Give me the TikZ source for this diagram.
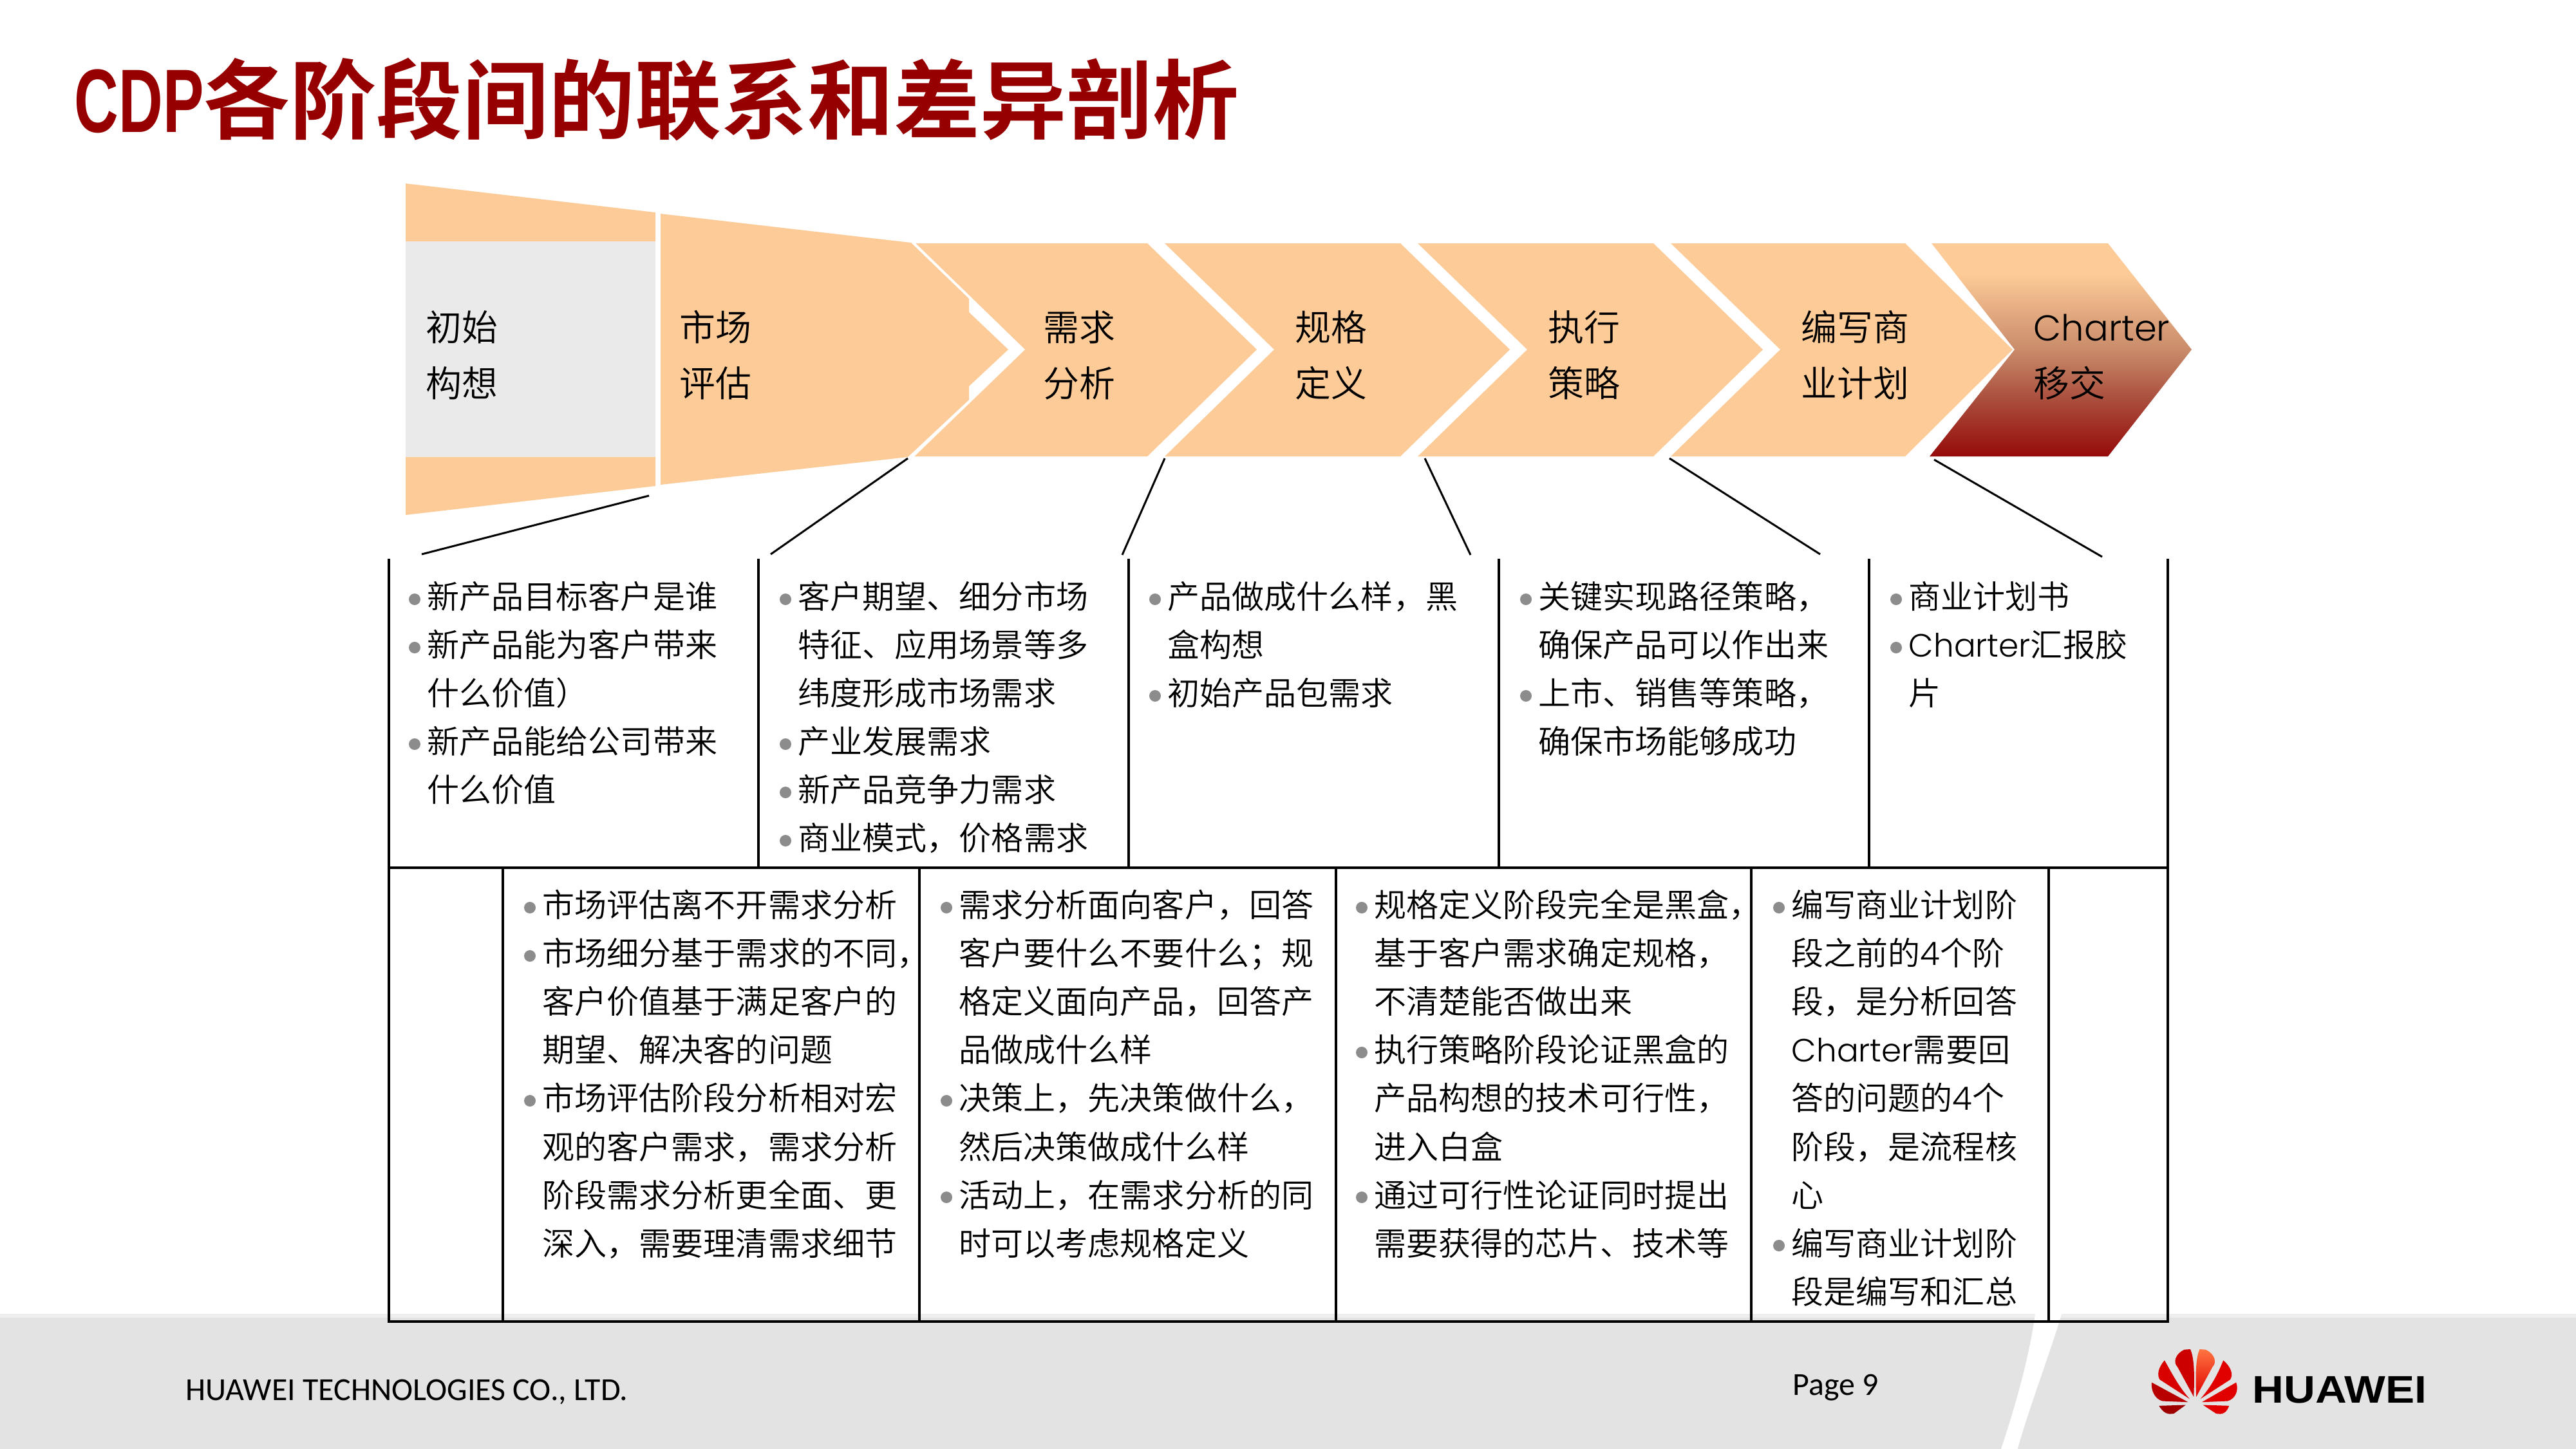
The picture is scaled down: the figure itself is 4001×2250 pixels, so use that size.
\documentclass[tikz,border=0pt]{standalone}
\usepackage{fontspec}
\usepackage{graphicx}
\setmainfont{Noto Sans CJK SC}[UprightFont=* DemiLight,BoldFont=* Bold]
\newfontfamily\gothic{Poppins}[UprightFont=* Light]
\newfontfamily\carl{Carlito}
\newfontfamily\arialb{Liberation Sans}[UprightFont=* Bold]
\newcommand\lat[1]{{\gothic #1}}
\definecolor{peach}{HTML}{FDCB98}
\definecolor{titlered}{HTML}{960000}
\definecolor{idea}{HTML}{EAEAEA}
\definecolor{foot}{HTML}{E3E3E3}
\definecolor{footlight}{HTML}{EEEEEE}
\definecolor{bul}{HTML}{8C8C8C}
\definecolor{cdark}{HTML}{960A0A}
\definecolor{cm}{HTML}{C98B6A}
\definecolor{cl}{HTML}{A94C3C}
\pgfdeclareverticalshading{charterfade}{100bp}{color(0bp)=(cdark); color(25bp)=(cdark); color(38bp)=(cl); color(50bp)=(cm); color(68bp)=(peach); color(100bp)=(peach)}
\tikzset{
  stagefill/.style={fill=peach,draw=none},
  grid/.style={draw=black,line width=0.035cm,line cap=rect},
  connector/.style={draw=black,line width=0.03cm},
  celltext/.style={anchor=north west,inner sep=0pt,align=left,text=black,font=\fontsize{14.23pt}{21.34pt}\selectfont},
  stagetext/.style={anchor=north west,inner sep=0pt,align=left,text=black,font=\fontsize{15.9pt}{24.73pt}\selectfont},
  foottext/.style={anchor=base west,inner sep=0pt,text=black,font=\carl\fontsize{14.2pt}{17pt}\selectfont},
}
\newcommand\cell[5]{%
  \node[celltext] (#1) at (#2-2,#3) {\rule{0pt}{0.55cm}#5};
  \foreach \k in {#4} {\fill[bul] (#2-21,#3+41+75*\k) circle[radius=9];}
}
\newcommand\stage[3]{\node[stagetext] (#1) at (#2,467) {\rule{0pt}{0.62cm}#3};}
\begin{document}
\begin{tikzpicture}[x=0.01cm,y=-0.01cm]
\useasboundingbox (0,0) rectangle (4001,2250);
% footer
\fill[foot] (-10,2041) rectangle (4011,2260);
\fill[footlight] (-10,2041) rectangle (4011,2047);
\fill[white] (3161,2041) .. controls (3150,2120) and (3125,2200) .. (3105,2260) -- (3131,2260) .. controls (3150,2190) and (3185,2100) .. (3202,2041) -- cycle;
% title
\node[anchor=base west,inner sep=0pt,text=titlered,font=\fontsize{38.1pt}{40pt}\selectfont\bfseries] (title) at (115,205)
  {{\arialb\fontsize{39.8pt}{40pt}\selectfont\scalebox{0.68}[1]{CDP}}各阶段间的联系和差异剖析};
% funnel
\fill[stagefill] (630,285) -- (1018,330) -- (1018,375) -- (630,375) -- cycle;
\fill[idea] (630,375) rectangle (1018,710);
\fill[stagefill] (630,800) -- (1018,755) -- (1018,710) -- (630,710) -- cycle;
% chevrons
\fill[stagefill] (1419,378) -- (1782,378) -- (1952,543) -- (1782,709) -- (1419,709) -- (1590,543) -- cycle;
\fill[stagefill] (1809,378) -- (2175,378) -- (2345,543) -- (2175,709) -- (1809,709) -- (1979,543) -- cycle;
\fill[stagefill] (2202,378) -- (2568,378) -- (2738,543) -- (2568,709) -- (2202,709) -- (2372,543) -- cycle;
\fill[stagefill] (2595,378) -- (2959,378) -- (3126,543) -- (2959,709) -- (2595,709) -- (2765,543) -- cycle;
\shade[shading=charterfade] (3000,378) -- (3274,378) -- (3404,543) -- (3274,709) -- (2997,709) -- (3129,543) -- cycle;
% market evaluation shape
\fill[white] (1411,375) -- (1419,375) -- (1592,543) -- (1417,712) -- (1405,712) -- (1566,543) -- cycle;
\fill[stagefill] (1026,332) -- (1415,377) -- (1505,464) -- (1505,485) -- (1566,543) -- (1505,600) -- (1505,621) -- (1410,710) -- (1026,753) -- cycle;
% stage labels
\stage{s1}{661}{初始\\构想}
\stage{s2}{1055}{市场\\评估}
\stage{s3}{1620}{需求\\分析}
\stage{s4}{2011}{规格\\定义}
\stage{s5}{2404}{执行\\策略}
\stage{s6}{2797}{编写商\\业计划}
\stage{s7}{3158}{\lat{Charter}\\移交}
% connectors
\coordinate (c1a) at (1008,770); \coordinate (c1b) at (655,861);
\coordinate (c2a) at (1410,712); \coordinate (c2b) at (1197,861);
\coordinate (c3a) at (1809,712); \coordinate (c3b) at (1743,862);
\coordinate (c4a) at (2213,712); \coordinate (c4b) at (2284,862);
\coordinate (c5a) at (2593,712); \coordinate (c5b) at (2827,861);
\coordinate (c6a) at (3004,714); \coordinate (c6b) at (3265,865);
\foreach \n in {1,...,6} {\draw[connector] (c\n a) -- (c\n b);}
% table
\draw[grid] (604,870) -- (604,2053) -- (3367,2053) -- (3367,870);
\draw[grid] (604,1348) -- (3367,1348);
\foreach \x in {1178,1753,2328,2903} {\draw[grid] (\x,870) -- (\x,1348);}
\foreach \x in {781,1428,2075,2720,3182} {\draw[grid] (\x,1348) -- (\x,2053);}
% upper cells
\cell{u1}{665}{890}{0,1,3}{新产品目标客户是谁\\新产品能为客户带来\\什么价值）\\新产品能给公司带来\\什么价值}
\cell{u2}{1241}{890}{0,3,4,5}{客户期望、细分市场\\特征、应用场景等多\\纬度形成市场需求\\产业发展需求\\新产品竞争力需求\\商业模式，价格需求}
\cell{u3}{1815}{890}{0,2}{产品做成什么样，黑\\盒构想\\初始产品包需求}
\cell{u4}{2391}{890}{0,2}{关键实现路径策略，\\确保产品可以作出来\\上市、销售等策略，\\确保市场能够成功}
\cell{u5}{2966}{890}{0,1}{商业计划书\\\lat{Charter}汇报胶\\片}
% lower cells
\cell{l1}{844}{1369}{0,1,4}{市场评估离不开需求分析\\市场细分基于需求的不同，\\客户价值基于满足客户的\\期望、解决客的问题\\市场评估阶段分析相对宏\\观的客户需求，需求分析\\阶段需求分析更全面、更\\深入，需要理清需求细节}
\cell{l2}{1491}{1369}{0,4,6}{需求分析面向客户，回答\\客户要什么不要什么；规\\格定义面向产品，回答产\\品做成什么样\\决策上，先决策做什么，\\然后决策做成什么样\\活动上，在需求分析的同\\时可以考虑规格定义}
\cell{l3}{2136}{1369}{0,3,6}{规格定义阶段完全是黑盒，\\基于客户需求确定规格，\\不清楚能否做出来\\执行策略阶段论证黑盒的\\产品构想的技术可行性，\\进入白盒\\通过可行性论证同时提出\\需要获得的芯片、技术等}
\cell{l4}{2784}{1369}{0,7}{编写商业计划阶\\段之前的\lat{4}个阶\\段，是分析回答\\\lat{Charter}需要回\\答的问题的\lat{4}个\\阶段，是流程核\\心\\编写商业计划阶\\段是编写和汇总}
% footer text
\node[foottext] (company) at (288,2175) {HUAWEI TECHNOLOGIES CO., LTD.};
\node[foottext] (page) at (2784,2167) {Page 9};
% logo
\begin{scope}[shift={(3320,2080)},x=0.00333cm,y=-0.00333cm]
  \fill[red!80!black] (262,270) .. controls (266,180) and (266,90) .. (246,48) -- (218,50) .. controls (175,70) and (165,110) .. (186,130) -- cycle;
  \fill[red!85!black] (243,280) .. controls (190,220) and (160,160) .. (126,100) .. controls (95,135) and (90,170) .. (104,190) -- cycle;
  \fill[red!72!black] (236,295) -- (66,203) .. controls (62,240) and (80,280) .. (116,290) -- cycle;
  \fill[red!62!black] (225,308) -- (100,312) .. controls (120,345) and (140,355) .. (170,348) -- cycle;
  \shade[top color=red!45!orange!75,bottom color=red!88!black] (274,270) .. controls (270,180) and (270,90) .. (290,48) -- (318,50) .. controls (361,70) and (371,110) .. (350,130) -- cycle;
  \fill[red!88!black] (293,280) .. controls (346,220) and (376,160) .. (400,100) .. controls (441,135) and (446,170) .. (432,190) -- cycle;
  \fill[red!88!black] (300,295) -- (460,203) .. controls (474,240) and (456,280) .. (420,290) -- cycle;
  \fill[red!88!black] (305,308) -- (427,312) .. controls (416,345) and (396,355) .. (366,348) -- cycle;
\end{scope}
\node[anchor=base west,inner sep=0pt,text=black,font=\arialb\fontsize{17pt}{20pt}\selectfont] (brand) at (3498,2179) {\scalebox{1.13}[1]{HUAWEI}};
\end{tikzpicture}
\end{document}
